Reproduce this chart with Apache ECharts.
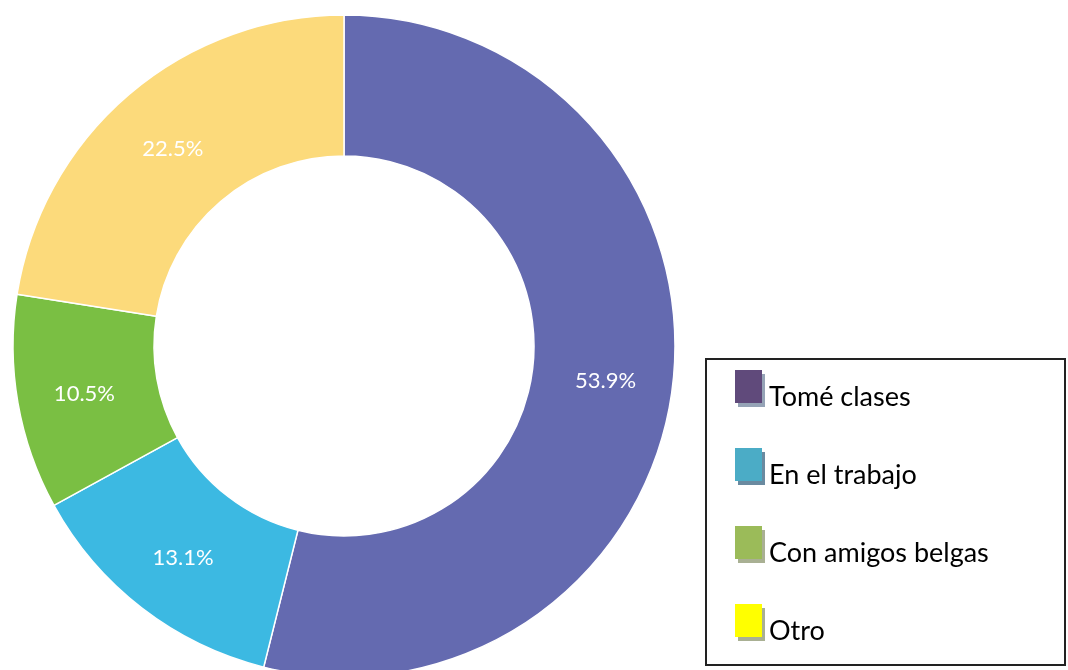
<!DOCTYPE html>
<html>
<head>
<meta charset="utf-8">
<script src="https://cdn.jsdelivr.net/npm/echarts@6/dist/echarts.min.js"></script>
<style>
  html, body { margin: 0; padding: 0; background: #fff; }
  #chart { width: 1068px; height: 670px; }
</style>
</head>
<body>
<div id="chart"></div>
<script>
const categories = ['Tomé clases', 'En el trabajo', 'Con amigos belgas', 'Otro']
const values = [53.9, 13.1, 10.5, 22.5]
const sliceColors = ['#646ab0', '#3cb9e2', '#7abf43', '#fcda7b']
const legendColors = ['#604a7b', '#4bacc6', '#9bbb59', '#ffff00']
const legendShadows = ['#95a3b6', '#6a8aa0', '#a9b093', '#a9b093']

const chart = echarts.init(document.getElementById('chart'))

chart.setOption({
  animation: false,
  graphic: [{
    type: 'rect',
    shape: { x: 706, y: 359, width: 359, height: 306 },
    style: { fill: 'none', stroke: '#222', lineWidth: 2 }
  }],
  legend: {
    orient: 'vertical',
    left: 730,
    top: 357,
    icon: 'rect',
    itemWidth: 27,
    itemHeight: 33,
    itemGap: 29,
    selectedMode: false,
    formatter: name => '{a|' + name + '}',
    textStyle: {
      rich: {
        a: { fontFamily: 'Lato', fontSize: 27, lineHeight: 30, color: '#000', padding: [22, 0, 0, 2] }
      }
    },
    data: categories.map((name, i) => ({
      name,
      itemStyle: {
        color: legendColors[i],
        borderWidth: 0,
        shadowColor: legendShadows[i],
        shadowOffsetX: 3,
        shadowOffsetY: 4,
        shadowBlur: 0
      }
    }))
  },
  series: [{
    type: 'pie',
    center: [344, 346],
    radius: [190, 331],
    startAngle: 90,
    clockwise: true,
    avoidLabelOverlap: false,
    emphasis: { disabled: true },
    itemStyle: { borderColor: '#fff', borderWidth: 1.5 },
    label: {
      show: true,
      position: 'inside',
      formatter: p => p.value.toFixed(1) + '%',
      color: '#fff',
      fontFamily: 'Lato',
      fontSize: 22,
      offset: [0, 3]
    },
    labelLine: { show: false },
    data: categories.map((name, i) => ({
      name,
      value: values[i],
      itemStyle: { color: sliceColors[i] }
    }))
  }]
})
</script>
</body>
</html>
